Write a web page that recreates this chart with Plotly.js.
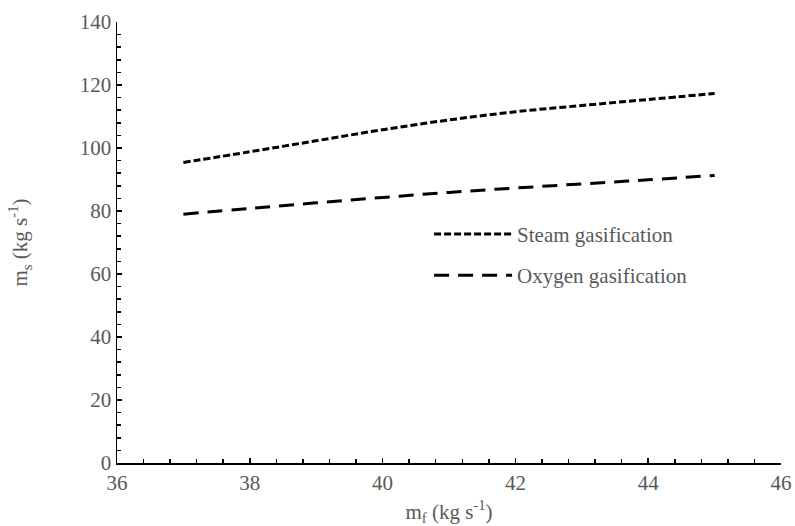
<!DOCTYPE html>
<html><head><meta charset="utf-8">
<script src="https://cdn.plot.ly/plotly-3.0.1.min.js"></script>
<style>html,body{margin:0;padding:0;background:#fff}#chart{width:795px;height:526px}</style>
</head><body><div id="chart"></div>
<script>
const mf = [37, 38, 39, 40, 41, 42, 43, 44, 45];
const steam = [95.4, 98.8, 102.3, 105.8, 108.9, 111.5, 113.5, 115.4, 117.3];
const oxygen = [79.0, 80.8, 82.6, 84.3, 85.9, 87.3, 88.6, 89.9, 91.3];
const seriesNames = ["Steam gasification", "Oxygen gasification"];

const font = {family: "Liberation Serif", size: 21, color: "#595959"};
const traces = [
  {x: mf, y: steam, name: seriesNames[0], legendgroup: "a", mode: "lines", line: {color: "#000", width: 3, dash: "7px,3px", shape: "spline", smoothing: 1}},
  {x: mf, y: oxygen, name: seriesNames[1], legendgroup: "b", mode: "lines", line: {color: "#000", width: 3, dash: "15px,9px", shape: "spline", smoothing: 1}}
];
const axisCommon = {showline: true, linecolor: "#000", linewidth: 1.5, showgrid: false, zeroline: false,
  ticks: "inside", ticklen: 5, tickcolor: "#000", tickwidth: 1.5, tickfont: font};
const layout = {
  width: 795, height: 526,
  margin: {l: 117, r: 14, t: 22, b: 63},
  paper_bgcolor: "#fff", plot_bgcolor: "#fff",
  font: font,
  showlegend: true,
  legend: {x: 0.47, y: 0.565, xanchor: "left", yanchor: "top", bgcolor: "rgba(0,0,0,0)", font: font, tracegroupgap: 11, itemwidth: 78},
  xaxis: Object.assign({}, axisCommon, {range: [36, 46], dtick: 2, tick0: 36,
    minor: {dtick: 0.4, ticks: "inside", ticklen: 4, tickcolor: "#000", tickwidth: 1.5},
    title: {text: "m<sub>f</sub> (kg s<sup>-1</sup>)", font: font, standoff: 14}}),
  yaxis: Object.assign({}, axisCommon, {range: [0, 140], dtick: 20, tick0: 0,
    minor: {dtick: 4, ticks: "inside", ticklen: 4, tickcolor: "#000", tickwidth: 1.5},
    title: {text: "m<sub>s</sub> (kg s<sup>-1</sup>)", font: font, standoff: 46}})
};
Plotly.newPlot("chart", traces, layout, {displayModeBar: false, staticPlot: true});
</script></body></html>
